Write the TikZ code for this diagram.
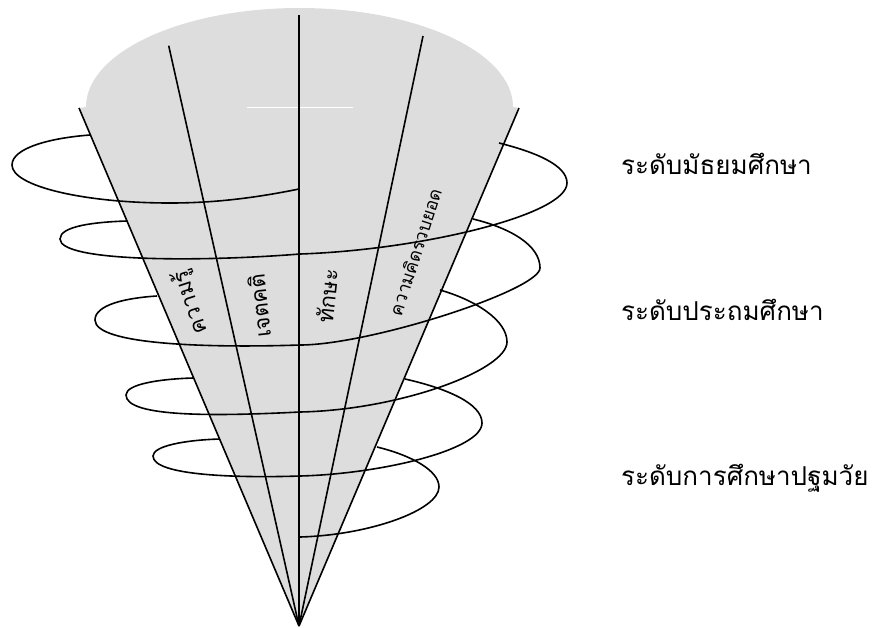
\documentclass[tikz,border=0pt]{standalone}
\usepackage{fontspec}
\usepackage{tikz}
\newfontfamily\thaifont[Script=Thai]{Loma}
\definecolor{conegray}{HTML}{DDDDDD}
\tikzset{level/.style={anchor=base west, font=\thaifont\fontsize{26}{30}\selectfont},
  facet/.style={inner sep=0pt, font=\thaifont\fontsize{22}{26}\selectfont}}

\begin{document}
\begin{tikzpicture}[x=1pt, y=-1pt, line width=1.6pt]
   \useasboundingbox (0,0) rectangle (877,627);
   \coordinate (apex) at (299,626);
   % cone body
   \fill[conegray] (86,107) arc[start angle=180, end angle=0, x radius=213.5pt, y radius=99pt] -- (519,108) -- (apex) -- (79,108) -- cycle;
   \draw[white, line width=0.8pt] (247,107) -- (353,107);
   \draw (79,108) -- (apex);
   \draw (168.7,45.7) -- (apex);
   \draw (299,15) -- (apex);
   \draw (423,36) -- (apex);
   \draw (519,108) -- (apex);
   % spiral
   \draw (299,189) .. controls (250,199) and (210,203) .. (170,203) .. controls (83,203) and (12,186) .. (12,165) .. controls (12,148) and (50,138) .. (90,135);
   \draw (499,143) .. controls (535,152) and (567,165) .. (567,183) .. controls (567,215) and (420,250) .. (300,254) .. controls (200,262) and (60,262) .. (60,239) .. controls (60,226) and (95,222) .. (127,221);
   \draw (473,219) .. controls (510,228) and (540,245) .. (540,268) .. controls (540,290) and (370,345) .. (300,345) .. controls (210,348) and (95,345) .. (95,320) .. controls (95,305) and (125,298) .. (157,296);
   \draw (440,290) .. controls (475,300) and (507,320) .. (507,342) .. controls (507,370) and (400,410) .. (300,412) .. controls (220,416) and (126,418) .. (126,395) .. controls (126,384) and (160,379) .. (193,378);
   \draw (405,379) .. controls (445,388) and (482,403) .. (482,423) .. controls (482,450) and (380,474) .. (300,476) .. controls (240,478) and (153,476) .. (153,456) .. controls (153,446) and (185,440) .. (220,439);
   \draw (377,447) .. controls (410,455) and (439,470) .. (439,487) .. controls (439,510) and (370,535) .. (300,537);
   % texts on the cone
   \node[facet, rotate=108] (knowledge) at (191,302) {ความรู้};
   \node[facet, rotate=96] (attitude) at (259,306) {เจตคติ};
   \node[facet, rotate=84] (skill) at (327,296) {ทักษะ};
   \node[facet, rotate=72, font=\thaifont\fontsize{18}{21}\selectfont] (concept) at (415,252) {ความคิดรวบยอด};
   % levels
   \node[level] (secondary) at (617,174) {ระดับมัธยมศึกษา};
   \node[level] (primary) at (617,320) {ระดับประถมศึกษา};
   \node[level] (early) at (617,485) {ระดับการศึกษาปฐมวัย};
\end{tikzpicture}
\end{document}
